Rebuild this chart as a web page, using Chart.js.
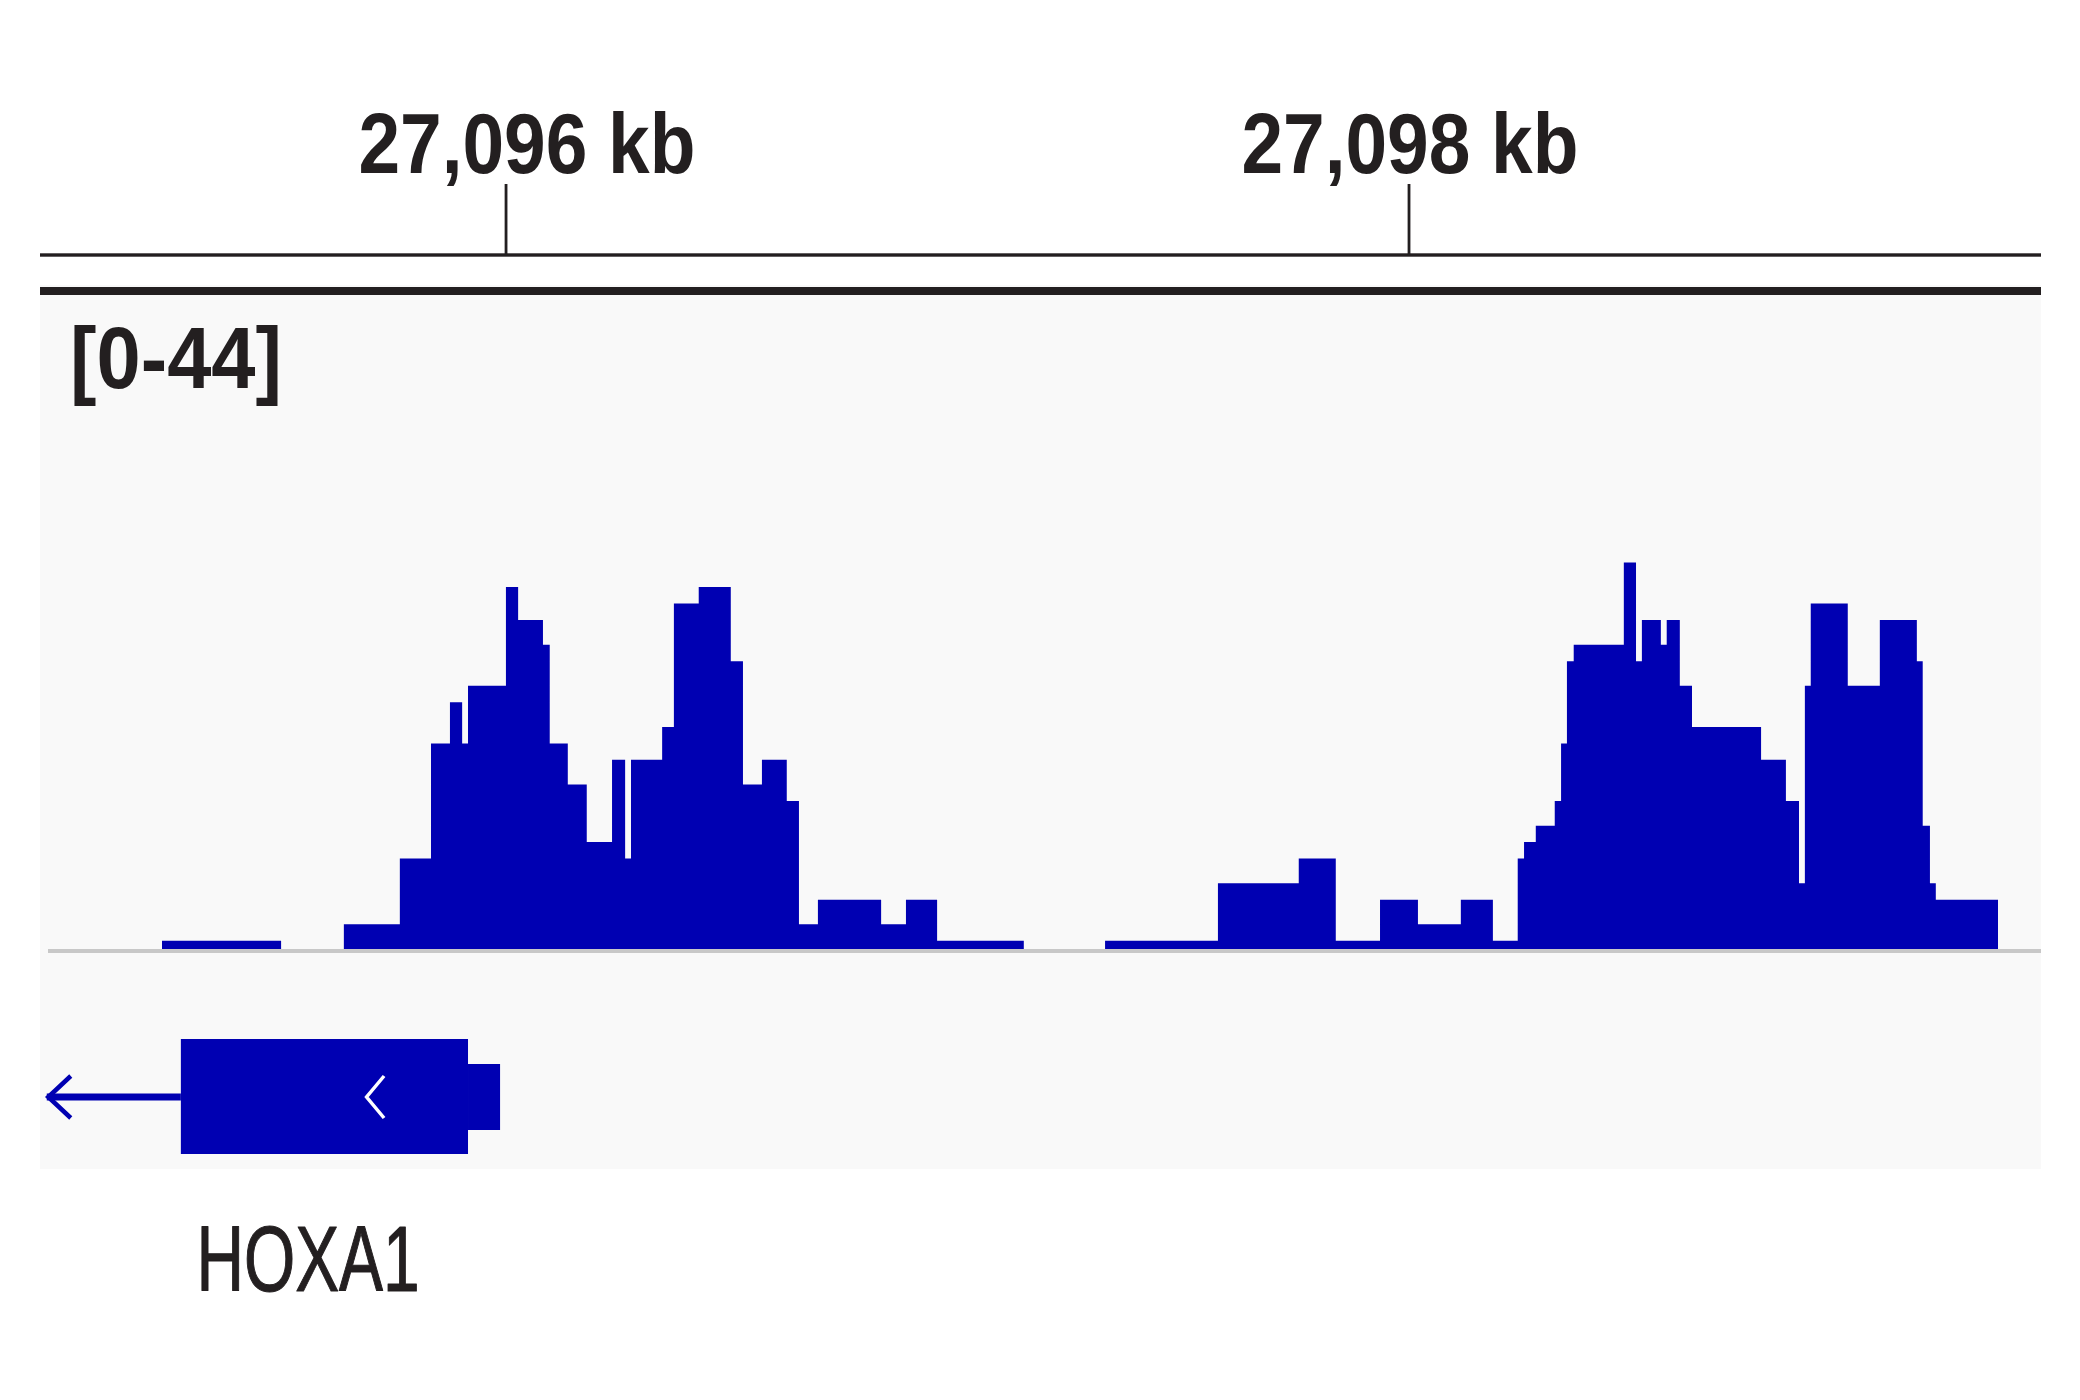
<!DOCTYPE html>
<html>
<head>
<meta charset="utf-8">
<script src="https://cdn.jsdelivr.net/npm/chart.js@4.4.0/dist/chart.umd.min.js"></script>
<style>
  html, body { margin: 0; padding: 0; background: #ffffff; }
  #wrap { width: 2080px; height: 1400px; position: relative; }
</style>
</head>
<body>
<div id="wrap"><canvas id="c" width="2080" height="1400"></canvas></div>
<script>
// ---------------- data ----------------
const viewStart = 27094968;
const viewEnd = 27099400;
const rulerTicks = [27096000, 27098000];
const rulerLabels = ['27,096 kb', '27,098 kb'];
const dataRangeLabel = '[0-44]';

// coverage bins: binValues[i] covers [binEdges[i], binEdges[i+1])
const binEdges = [
  27095238, 27095502, 27095641, 27095765, 27095834, 27095876, 27095903, 27095916,
  27096000, 27096027, 27096082, 27096097, 27096137, 27096179, 27096235, 27096264,
  27096277, 27096346, 27096372, 27096427, 27096498, 27096525, 27096567, 27096622,
  27096649, 27096691, 27096831, 27096886, 27096955, 27097147, 27097327, 27097577,
  27097756, 27097838, 27097936, 27098020, 27098115, 27098186, 27098241, 27098255,
  27098281, 27098323, 27098337, 27098350, 27098365, 27098476, 27098503, 27098516,
  27098558, 27098571, 27098600, 27098627, 27098780, 27098835, 27098864, 27098877,
  27098890, 27098972, 27099043, 27099125, 27099138, 27099154, 27099167, 27099305
];
const binValues = [
  1, 0, 3, 11, 25, 30, 25, 32,
  44, 40, 37, 25, 20, 13, 23, 11,
  23, 27, 42, 44, 35, 20, 23, 18,
  3, 6, 3, 6, 1, 0, 1, 8,
  11, 1, 6, 3, 6, 1, 11, 13,
  15, 18, 25, 35, 37, 47, 35, 40,
  37, 40, 32, 27, 23, 18, 8, 32,
  42, 32, 40, 35, 15, 8, 6
];

const geneName = 'HOXA1';
const geneStart = 27094983;        // visible start of transcript line
const geneCodingStart = 27095280;  // thick block
const geneCodingEnd = 27095916;
const geneEnd = 27095987;          // thin UTR end
const strandArrows = [27094983, 27095688];

// ---------------- styles ----------------
const BLUE = 'rgb(0,0,178)';
const INK = '#231f20';
const FONT_STACK = '"Liberation Sans Narrow", "Liberation Sans", Arial, sans-serif';

const points = binEdges.map((e, i) => ({ x: e, y: i < binValues.length ? binValues[i] : 0 }));

function drawFitText(ctx, text, x, baseline, font, targetW, align, strokeW) {
  ctx.save();
  ctx.font = font;
  const w = ctx.measureText(text).width + strokeW;
  const sx = targetW / w;
  ctx.translate(x, baseline);
  ctx.scale(sx, 1);
  ctx.textAlign = align;
  ctx.textBaseline = 'alphabetic';
  ctx.fillStyle = INK;
  ctx.strokeStyle = INK;
  ctx.lineJoin = 'round';
  const dx = align === 'left' ? strokeW / 2 : 0;
  ctx.fillText(text, dx, 0);
  if (strokeW > 0) {
    ctx.lineWidth = strokeW;
    ctx.strokeText(text, dx, 0);
  }
  ctx.restore();
}

const igvDecor = {
  id: 'igvDecor',
  beforeDraw(chart) {
    const ctx = chart.ctx;
    const a = chart.chartArea;
    ctx.save();
    ctx.fillStyle = '#ffffff';
    ctx.fillRect(0, 0, chart.width, chart.height);
    ctx.fillStyle = '#f9f9f9';
    ctx.fillRect(a.left, 285, a.right - a.left, 1169 - 285);
    ctx.restore();
  },
  afterDatasetsDraw(chart) {
    const ctx = chart.ctx;
    const a = chart.chartArea;
    const xs = chart.scales.x;
    const ys = chart.scales.y;
    ctx.save();

    // baseline of the data track
    const y0 = ys.getPixelForValue(0);
    ctx.fillStyle = '#c8c8c8';
    ctx.fillRect(a.left + 8, y0, a.right - a.left - 8, 4);

    // ruler
    ctx.fillStyle = INK;
    ctx.fillRect(a.left, 253.3, a.right - a.left, 3.4);
    const labelShift = [21, 1];
    rulerTicks.forEach((t, i) => {
      const x = xs.getPixelForValue(t);
      ctx.fillStyle = INK;
      ctx.fillRect(x - 1.3, 184, 2.8, 71);
      drawFitText(ctx, rulerLabels[i], x + labelShift[i], 173, 'bold 85px ' + FONT_STACK, 337, 'center', 0);
    });

    // thick separator
    ctx.fillStyle = INK;
    ctx.fillRect(a.left, 287, a.right - a.left, 8);

    // data range label
    drawFitText(ctx, dataRangeLabel, 70, 388, 'bold 87px ' + FONT_STACK, 212, 'left', 0);

    // gene
    const gx0 = xs.getPixelForValue(geneStart);
    const gcs = xs.getPixelForValue(geneCodingStart);
    const gce = xs.getPixelForValue(geneCodingEnd);
    const gx1 = xs.getPixelForValue(geneEnd);
    ctx.fillStyle = BLUE;
    ctx.fillRect(gx0, 1093.5, gcs - gx0, 7);
    ctx.fillRect(gcs, 1039, gce - gcs, 115);
    ctx.fillRect(gce, 1064, gx1 - gce, 66);
    strandArrows.forEach(p => {
      const x = xs.getPixelForValue(p);
      const inside = x > gcs && x < gx1;
      const w = inside ? 19 : 24;
      ctx.beginPath();
      ctx.moveTo(x + w, 1076);
      ctx.lineTo(x + 1.5, 1097);
      ctx.lineTo(x + w, 1118);
      ctx.lineWidth = inside ? 3.5 : 4.5;
      ctx.lineJoin = 'miter';
      ctx.strokeStyle = inside ? '#ffffff' : BLUE;
      ctx.stroke();
    });

    // gene name
    drawFitText(ctx, geneName, 196, 1291, '92px ' + FONT_STACK, 224, 'left', 1.2);

    ctx.restore();
  }
};

new Chart(document.getElementById('c'), {
  type: 'line',
  data: {
    datasets: [{
      data: points,
      stepped: true,
      fill: 'origin',
      backgroundColor: BLUE,
      borderColor: BLUE,
      borderWidth: 0,
      pointRadius: 0,
      pointHoverRadius: 0,
      tension: 0
    }]
  },
  options: {
    responsive: false,
    animation: false,
    events: [],
    layout: { padding: { left: 40, right: 39, top: 291, bottom: 451 } },
    plugins: { legend: { display: false }, tooltip: { enabled: false } },
    scales: {
      x: { type: 'linear', min: viewStart, max: viewEnd, display: false },
      y: { type: 'linear', min: 0, max: 80, display: false }
    }
  },
  plugins: [igvDecor]
});
</script>
</body>
</html>
